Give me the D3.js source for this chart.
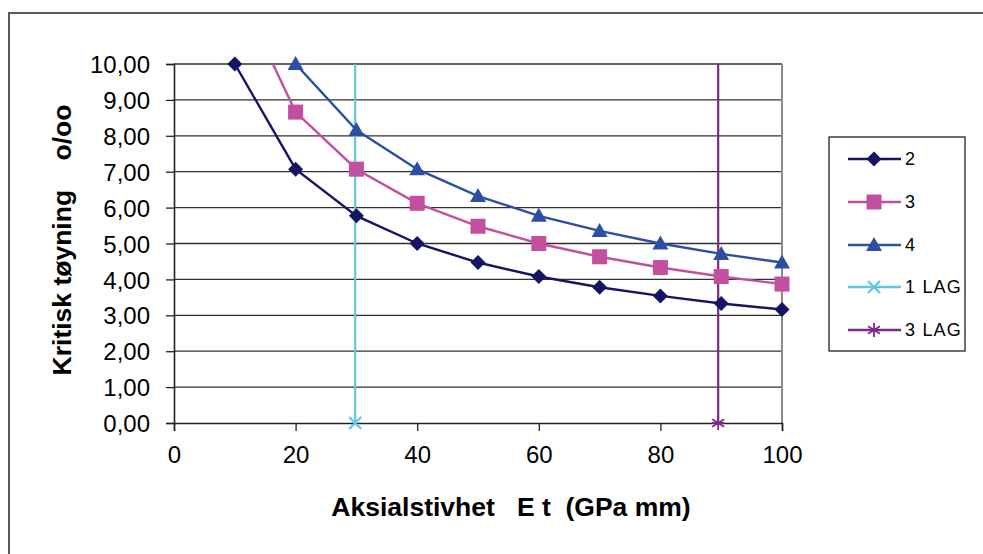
<!DOCTYPE html>
<html><head><meta charset="utf-8">
<script src="https://cdn.jsdelivr.net/npm/d3@7"></script>
<style>html,body{margin:0;padding:0;background:#fff;overflow:hidden}</style>
</head><body>
<svg id="c" width="983" height="554"></svg>
<script>
const xValues = [10, 20, 30, 40, 50, 60, 70, 80, 90, 100];
const series2 = [10.00, 7.07, 5.77, 5.00, 4.47, 4.08, 3.78, 3.54, 3.33, 3.16];
const series3 = [12.25, 8.66, 7.07, 6.12, 5.48, 5.00, 4.63, 4.33, 4.08, 3.87];
const series4 = [null, 10.00, 8.16, 7.07, 6.32, 5.77, 5.35, 5.00, 4.71, 4.47];
const lag1X = [29.8, 29.8];
const lag1Y = [0, 12];
const lag3X = [89.5, 89.5];
const lag3Y = [0, 12];
const seriesNames = ["2", "3", "4", "1 LAG", "3 LAG"];
const xTicks = [0, 20, 40, 60, 80, 100];
const yTicks = [0, 1, 2, 3, 4, 5, 6, 7, 8, 9, 10];
const xTitle = "Aksialstivhet   E t  (GPa mm)";
const yTitle = "Kritisk tøyning    o/oo";

const colors = ["#151563", "#c2509e", "#2c4fa4", "#5ec8dc", "#7c2a82"];
const symbols = ["diamond", "square", "triangle", "x", "star"];

const svg = d3.select("#c");
const font = "'Liberation Sans', Arial, sans-serif";
const L = 174, R = 782, T = 64, B = 423;
const x = d3.scaleLinear().domain([0, 100]).range([L, R]);
const y = d3.scaleLinear().domain([0, 10]).range([B, T]);

// outer frame
svg.append("rect").attr("x", 9).attr("y", 13).attr("width", 1000).attr("height", 600)
  .attr("fill", "none").attr("stroke", "#5a5a5a").attr("stroke-width", 2);

// gridlines
svg.append("g").selectAll("line").data(yTicks.filter(d => d > 0)).join("line")
  .attr("x1", L).attr("x2", R).attr("y1", d => y(d)).attr("y2", d => y(d))
  .attr("stroke", "#303030").attr("stroke-width", 1.3);
// right border of plot
svg.append("line").attr("x1", R).attr("x2", R).attr("y1", T).attr("y2", B)
  .attr("stroke", "#8a8a8a").attr("stroke-width", 2);

// axes
const yAxis = d3.axisLeft(y).tickValues(yTicks).tickSize(8).tickPadding(16)
  .tickFormat(d => d3.format(".2f")(d).replace(".", ","));
const gy = svg.append("g").attr("transform", `translate(${L},0)`).call(yAxis);
const xAxis = d3.axisBottom(x).tickValues(xTicks).tickSize(8).tickPadding(10);
const gx = svg.append("g").attr("transform", `translate(0,${B})`).call(xAxis);
[gx, gy].forEach(g => {
  g.select(".domain").attr("stroke", "#222").attr("stroke-width", 1.6);
  g.selectAll(".tick line").attr("stroke", "#222").attr("stroke-width", 1.3);
  g.selectAll(".tick text").attr("font-family", font).attr("font-size", 24).attr("fill", "#000");
});
gy.selectAll(".tick text").attr("dy", "0.36em");
gx.selectAll(".tick text").attr("dy", "0.9em");

// clip
svg.append("clipPath").attr("id", "clip").append("rect")
  .attr("x", L).attr("y", T).attr("width", R - L).attr("height", B - T);

function drawMarker(g, i, cx, cy) {
  const c = colors[i];
  const t = symbols[i];
  const m = g.append("path").attr("transform", `translate(${cx},${cy})`);
  if (t === "diamond") {
    const s = 7.5;
    m.attr("d", `M0,${-s}L${s},0L0,${s}L${-s},0Z`).attr("fill", c);
  } else if (t === "square") {
    const s = 7.5;
    m.attr("d", `M${-s},${-s}H${s}V${s}H${-s}Z`).attr("fill", c);
  } else if (t === "triangle") {
    m.attr("d", "M0,-8L8,6L-8,6Z").attr("fill", c);
  } else if (t === "x") {
    const s = 6;
    m.attr("d", `M${-s},${-s}L${s},${s}M${-s},${s}L${s},${-s}`)
      .attr("stroke", c).attr("stroke-width", 2.2).attr("fill", "none");
  } else {
    const s = 7;
    m.attr("d", `M0,${-s}L0,${s}M${-s*0.85},${-s*0.55}L${s*0.85},${s*0.55}M${-s*0.85},${s*0.55}L${s*0.85},${-s*0.55}M${-s*0.9},0L${s*0.9},0`)
      .attr("stroke", c).attr("stroke-width", 1.8).attr("fill", "none");
  }
}

const dataSets = [
  xValues.map((v, k) => [v, series2[k]]),
  xValues.map((v, k) => [v, series3[k]]),
  xValues.map((v, k) => [v, series4[k]]),
  lag1X.map((v, k) => [v, lag1Y[k]]),
  lag3X.map((v, k) => [v, lag3Y[k]])
];
const line = d3.line().defined(d => d[1] != null).x(d => x(d[0])).y(d => y(d[1]));
const plot = svg.append("g");
[3, 4, 0, 1, 2].forEach(i => {
  plot.append("path").datum(dataSets[i]).attr("d", line).attr("clip-path", "url(#clip)")
    .attr("fill", "none").attr("stroke", colors[i]).attr("stroke-width", i >= 3 ? 2.2 : 2.4);
});
[3, 4, 0, 1, 2].forEach(i => {
  dataSets[i].filter(d => d[1] != null && d[1] <= 10).forEach(d => drawMarker(plot, i, x(d[0]), y(d[1])));
});

// axis titles
svg.append("text").attr("x", 511).attr("y", 516).attr("text-anchor", "middle")
  .attr("font-family", font).attr("font-weight", "bold").attr("font-size", 26.5)
  .attr("xml:space", "preserve").style("white-space", "pre").text(xTitle);
svg.append("text").attr("transform", "translate(71,240) rotate(-90)").attr("text-anchor", "middle")
  .attr("font-family", font).attr("font-weight", "bold").attr("font-size", 26.5)
  .attr("xml:space", "preserve").style("white-space", "pre").text(yTitle);

// legend
svg.append("rect").attr("x", 829).attr("y", 137).attr("width", 136).attr("height", 214)
  .attr("fill", "#fff").attr("stroke", "#222").attr("stroke-width", 1.3);
const legY = [159, 202, 245, 287, 330];
seriesNames.forEach((n, i) => {
  const g = svg.append("g");
  g.append("line").attr("x1", 848).attr("x2", 901).attr("y1", legY[i]).attr("y2", legY[i])
    .attr("stroke", colors[i]).attr("stroke-width", 2.4);
  drawMarker(g, i, 874, legY[i]);
  g.append("text").attr("x", 905).attr("y", legY[i]).attr("dy", "0.36em")
    .attr("font-family", font).attr("font-size", 18).attr("letter-spacing", 1.2).attr("fill", "#000").text(n);
});
</script>
</body></html>
